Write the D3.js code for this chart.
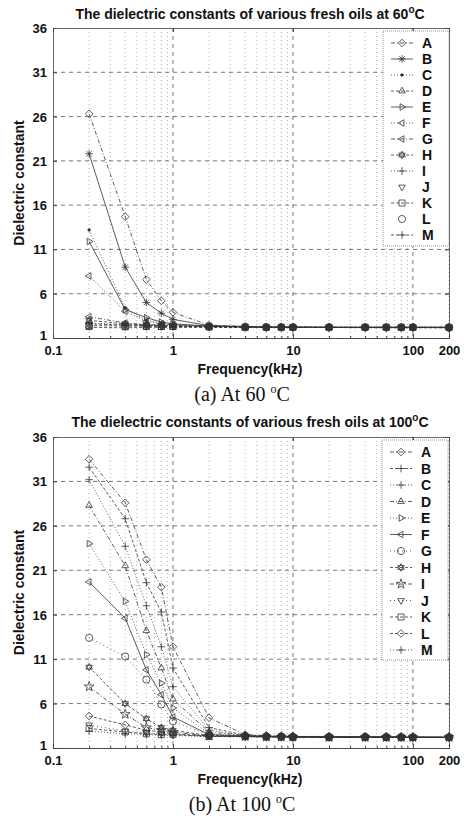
<!DOCTYPE html>
<html>
<head>
<meta charset="utf-8">
<script src="https://cdn.jsdelivr.net/npm/d3@7"></script>
<style>
  body { margin: 0; background: #fff; }
  svg { display: block; }
  .tick text { font-family: Arial, "Liberation Sans", sans-serif; font-weight: bold; font-size: 13px; fill: #111; }
</style>
</head>
<body>
<svg id="chart" width="464" height="818"></svg>
<script>
// frequencies (kHz) and dielectric constants
const freqKHz = [0.2, 0.4, 0.6, 0.8, 1, 2, 4, 6, 8, 10, 20, 40, 60, 80, 100, 200];
const oilNames = ["A", "B", "C", "D", "E", "F", "G", "H", "I", "J", "K", "L", "M"];
const yTicks = [1, 6, 11, 16, 21, 26, 31, 36];
const xTicks = [0.1, 1, 10, 100, 200];

// 60 C
const A60 = [26.3, 14.7, 7.6, 5.2, 3.9, 2.45, 2.3, 2.25, 2.25, 2.25, 2.2, 2.2, 2.2, 2.2, 2.2, 2.2];
const B60 = [21.8, 9.0, 5.0, 3.8, 3.1, 2.4, 2.3, 2.25, 2.25, 2.25, 2.2, 2.2, 2.2, 2.2, 2.2, 2.2];
const C60 = [13.2, 4.4, 3.0, 2.7, 2.5, 2.35, 2.25, 2.25, 2.2, 2.2, 2.2, 2.2, 2.2, 2.2, 2.2, 2.15];
const D60 = [2.2, 2.15, 2.2, 2.2, 2.2, 2.2, 2.2, 2.2, 2.2, 2.2, 2.2, 2.15, 2.15, 2.15, 2.15, 2.15];
const E60 = [11.9, 4.2, 3.3, 2.8, 2.6, 2.35, 2.25, 2.25, 2.2, 2.2, 2.2, 2.2, 2.2, 2.2, 2.2, 2.2];
const F60 = [8.0, 4.0, 2.9, 2.6, 2.5, 2.3, 2.25, 2.2, 2.2, 2.2, 2.2, 2.2, 2.2, 2.2, 2.2, 2.15];
const G60 = [3.4, 2.7, 2.5, 2.45, 2.4, 2.3, 2.25, 2.2, 2.2, 2.2, 2.2, 2.2, 2.2, 2.2, 2.2, 2.2];
const H60 = [3.0, 2.6, 2.5, 2.4, 2.4, 2.3, 2.25, 2.2, 2.2, 2.2, 2.2, 2.2, 2.2, 2.2, 2.2, 2.2];
const I60 = [2.7, 2.5, 2.45, 2.4, 2.35, 2.3, 2.25, 2.2, 2.2, 2.2, 2.2, 2.2, 2.2, 2.2, 2.2, 2.2];
const J60 = [2.5, 2.4, 2.4, 2.35, 2.35, 2.3, 2.25, 2.2, 2.2, 2.2, 2.2, 2.2, 2.2, 2.2, 2.2, 2.2];
const K60 = [2.4, 2.35, 2.35, 2.3, 2.3, 2.25, 2.2, 2.2, 2.2, 2.2, 2.2, 2.2, 2.2, 2.2, 2.2, 2.2];
const L60 = [2.3, 2.3, 2.3, 2.3, 2.3, 2.25, 2.2, 2.2, 2.2, 2.2, 2.2, 2.2, 2.2, 2.2, 2.2, 2.15];
const M60 = [2.6, 2.45, 2.4, 2.35, 2.3, 2.25, 2.2, 2.2, 2.2, 2.2, 2.2, 2.2, 2.2, 2.2, 2.2, 2.2];

// 100 C
const A100 = [33.5, 28.6, 22.2, 19.1, 12.4, 4.4, 2.5, 2.4, 2.35, 2.3, 2.3, 2.25, 2.25, 2.25, 2.25, 2.2];
const B100 = [32.6, 26.8, 19.6, 16.3, 10.0, 3.3, 2.45, 2.35, 2.3, 2.3, 2.25, 2.25, 2.25, 2.25, 2.25, 2.2];
const C100 = [31.2, 23.7, 17.0, 12.4, 7.9, 3.0, 2.4, 2.35, 2.3, 2.3, 2.25, 2.25, 2.25, 2.25, 2.25, 2.2];
const D100 = [28.3, 21.5, 14.2, 10.0, 6.5, 2.8, 2.4, 2.3, 2.3, 2.3, 2.25, 2.25, 2.25, 2.25, 2.2, 2.2];
const E100 = [24.0, 17.5, 11.5, 8.3, 5.5, 2.6, 2.35, 2.3, 2.3, 2.3, 2.25, 2.25, 2.25, 2.25, 2.2, 2.2];
const F100 = [19.7, 15.6, 9.8, 7.0, 4.5, 2.5, 2.35, 2.3, 2.3, 2.25, 2.25, 2.25, 2.25, 2.2, 2.2, 2.2];
const G100 = [13.4, 11.3, 8.7, 5.9, 4.0, 2.45, 2.3, 2.3, 2.3, 2.25, 2.25, 2.25, 2.2, 2.2, 2.2, 2.2];
const H100 = [10.1, 6.0, 4.3, 3.3, 3.0, 2.4, 2.3, 2.3, 2.25, 2.25, 2.25, 2.2, 2.2, 2.2, 2.2, 2.2];
const I100 = [7.9, 4.8, 3.3, 3.0, 2.8, 2.35, 2.3, 2.25, 2.25, 2.25, 2.2, 2.2, 2.2, 2.2, 2.2, 2.2];
const J100 = [3.6, 2.9, 2.7, 2.6, 2.5, 2.35, 2.3, 2.25, 2.25, 2.25, 2.2, 2.2, 2.2, 2.2, 2.2, 2.2];
const K100 = [3.2, 2.8, 2.6, 2.5, 2.5, 2.3, 2.3, 2.25, 2.25, 2.2, 2.2, 2.2, 2.2, 2.2, 2.2, 2.2];
const L100 = [4.6, 3.6, 3.0, 2.8, 2.6, 2.35, 2.3, 2.25, 2.25, 2.2, 2.2, 2.2, 2.2, 2.2, 2.2, 2.2];
const M100 = [2.9, 2.6, 2.5, 2.45, 2.4, 2.3, 2.25, 2.25, 2.2, 2.2, 2.2, 2.2, 2.2, 2.2, 2.2, 2.2];

const markers60 = ["diamond", "asterisk", "point", "triUp", "triRight", "triLeft", "triLeft", "hexagram", "plus", "triDown", "square", "circle", "plus"];
const dashes60 = ["4,2,1,2", "", "1,2", "3,2", "", "1,2", "4,2,1,2", "3,2", "1,2", "none", "3,2", "none", "3,2"];
const markers100 = ["diamond", "plus", "plus", "triUp", "triRight", "triLeft", "circle", "hexagram", "star", "triDown", "square", "diamond", "plus"];
const dashes100 = ["4,2,1,2", "3,2", "1,2", "4,2,1,2", "1,2", "", "1,3", "3,2", "4,2,1,2", "1,3", "3,2", "3,2", "1,2"];

const panels = [
  {temp: "60", caption: "(a) At 60 ", series: [A60, B60, C60, D60, E60, F60, G60, H60, I60, J60, K60, L60, M60],
   markers: markers60, dashes: dashes60, top: 28, bottom: 338, titleY: 19, capY: 401,
   legend: {x0: 383, x1: 449, y0: 31, y1: 246, first: 43, step: 16}},
  {temp: "100", caption: "(b) At 100 ", series: [A100, B100, C100, D100, E100, F100, G100, H100, I100, J100, K100, L100, M100],
   markers: markers100, dashes: dashes100, top: 437, bottom: 748, titleY: 427, capY: 811,
   legend: {x0: 382, x1: 448, y0: 440, y1: 660, first: 452, step: 16.5}}
];

const svg = d3.select("#chart");
const left = 53, right = 449;
const ink = "#333";
const boldFont = "Arial, 'Liberation Sans', sans-serif";

function markerPath(type) {
  const r = 3.8;
  const c = Math.cos(Math.PI / 6) * r, s = r / 2;
  switch (type) {
    case "diamond": return `M0,${-r}L${r},0L0,${r}L${-r},0Z`;
    case "triUp": return `M0,${-r}L${c},${s}L${-c},${s}Z`;
    case "triDown": return `M0,${r}L${c},${-s}L${-c},${-s}Z`;
    case "triRight": return `M${r},0L${-s},${c}L${-s},${-c}Z`;
    case "triLeft": return `M${-r},0L${s},${c}L${s},${-c}Z`;
    case "square": return `M${-3},${-3}h6v6h-6Z`;
    case "plus": return `M${-r},0H${r}M0,${-r}V${r}`;
    case "asterisk": { const k = r * 0.7; return `M${-r},0H${r}M0,${-r}V${r}M${-k},${-k}L${k},${k}M${k},${-k}L${-k},${k}`; }
    case "hexagram": return `M0,${-r}L${c},${s}L${-c},${s}ZM0,${r}L${c},${-s}L${-c},${-s}Z`;
    case "star": return d3.symbol(d3.symbolStar, 30)();
    case "circle": return d3.symbol(d3.symbolCircle, 40)();
    case "point": return d3.symbol(d3.symbolCircle, 5)();
  }
}

function drawMarker(g, type, x, y) {
  g.append("path")
    .attr("d", markerPath(type))
    .attr("transform", `translate(${x},${y})`)
    .attr("fill", type === "point" ? ink : "none")
    .attr("stroke", ink)
    .attr("stroke-width", 0.8);
}

panels.forEach(p => {
  const x = d3.scaleLog().domain([0.1, 200]).range([left, right]);
  const y = d3.scaleLinear().domain([1, 36]).range([p.bottom, p.top]);
  const g = svg.append("g");

  // minor x ticks of a log axis
  const minorX = [];
  [0.1, 1, 10, 100].forEach(d => { for (let k = 2; k <= 9; k++) if (d * k <= 200) minorX.push(d * k); });

  // grid
  g.append("g").selectAll("line").data(minorX).join("line")
    .attr("x1", d => x(d)).attr("x2", d => x(d)).attr("y1", p.top).attr("y2", p.bottom)
    .attr("stroke", "#8a8a8a").attr("stroke-width", 0.7).attr("stroke-dasharray", "1,3");
  g.append("g").selectAll("line").data([1, 10, 100]).join("line")
    .attr("x1", d => x(d)).attr("x2", d => x(d)).attr("y1", p.top).attr("y2", p.bottom)
    .attr("stroke", "#666").attr("stroke-width", 0.9).attr("stroke-dasharray", "4,4");
  g.append("g").selectAll("line").data(yTicks.slice(1, -1)).join("line")
    .attr("x1", left).attr("x2", right).attr("y1", d => y(d)).attr("y2", d => y(d))
    .attr("stroke", "#666").attr("stroke-width", 0.9).attr("stroke-dasharray", "4,4");

  // axes
  const yAxis = g.append("g").attr("transform", `translate(${left},0)`)
    .call(d3.axisLeft(y).tickValues(yTicks).tickSize(-4).tickPadding(6));
  g.append("g").attr("transform", `translate(0,${p.bottom})`)
    .call(d3.axisBottom(x).tickValues(xTicks).tickSize(-4).tickPadding(8).tickFormat(d3.format("~g")));
  g.append("g").attr("transform", `translate(0,${p.bottom})`)
    .call(d3.axisBottom(x).tickValues(minorX).tickSize(-2).tickFormat(""));
  g.append("g").attr("transform", `translate(0,${p.top})`)
    .call(d3.axisTop(x).tickValues(xTicks).tickSize(-4).tickFormat(""));
  g.append("g").attr("transform", `translate(${right},0)`)
    .call(d3.axisRight(y).tickValues(yTicks).tickSize(-4).tickFormat(""));
  g.selectAll(".domain").attr("stroke", "#444").attr("stroke-width", 0.8);
  g.selectAll(".tick line").attr("stroke", "#444");
  yAxis.selectAll("text").attr("dy", d => d === 1 ? "0.1em" : "0.35em");

  // series
  const line = d3.line().x((d, i) => x(freqKHz[i])).y(d => y(d));
  p.series.forEach((vals, si) => {
    const dash = p.dashes[si];
    if (dash !== "none") {
      g.append("path").datum(vals).attr("d", line)
        .attr("fill", "none").attr("stroke", ink).attr("stroke-width", 0.8)
        .attr("stroke-dasharray", dash || null);
    }
    vals.forEach((v, i) => drawMarker(g, p.markers[si], x(freqKHz[i]), y(v)));
  });

  // legend
  const L = p.legend;
  g.append("rect").attr("x", L.x0).attr("y", L.y0).attr("width", L.x1 - L.x0).attr("height", L.y1 - L.y0)
    .attr("fill", "#fff").attr("stroke", "#777").attr("stroke-width", 0.8).attr("stroke-dasharray", "1,1");
  oilNames.forEach((name, si) => {
    const ly = L.first + si * L.step;
    const dash = p.dashes[si];
    if (dash !== "none") {
      g.append("line").attr("x1", L.x0 + 8).attr("x2", L.x0 + 30).attr("y1", ly).attr("y2", ly)
        .attr("stroke", ink).attr("stroke-width", 0.8).attr("stroke-dasharray", dash || null);
    }
    drawMarker(g, p.markers[si], L.x0 + 19, ly);
    g.append("text").attr("x", L.x0 + 39).attr("y", ly).attr("dy", "0.36em")
      .attr("font-family", boldFont).attr("font-weight", "bold").attr("font-size", 14)
      .attr("fill", "#111").text(name);
  });

  // title
  const t = g.append("text").attr("x", 250).attr("y", p.titleY)
    .attr("text-anchor", "middle").attr("font-family", boldFont).attr("font-weight", "bold")
    .attr("font-size", 14).attr("fill", "#111");
  t.append("tspan").text(`The dielectric constants of various fresh oils at ${p.temp}`);
  t.append("tspan").attr("dy", -6).attr("font-size", 10).text("o");
  t.append("tspan").attr("dy", 6).text("C");

  // axis labels
  g.append("text").attr("x", 250).attr("y", p.bottom + 36)
    .attr("text-anchor", "middle").attr("font-family", boldFont).attr("font-weight", "bold")
    .attr("font-size", 14).attr("fill", "#111").text("Frequency(kHz)");
  g.append("text").attr("transform", `translate(24,${(p.top + p.bottom) / 2}) rotate(-90)`)
    .attr("text-anchor", "middle").attr("font-family", boldFont).attr("font-weight", "bold")
    .attr("font-size", 14).attr("fill", "#111").text("Dielectric constant");

  // caption
  const c = g.append("text").attr("x", 242).attr("y", p.capY).attr("text-anchor", "middle")
    .attr("font-family", "'Liberation Serif', 'Times New Roman', serif").attr("font-size", 20).attr("fill", "#111");
  c.append("tspan").text(p.caption);
  c.append("tspan").attr("dy", -8).attr("font-size", 12).text("o");
  c.append("tspan").attr("dy", 8).text("C");
});
</script>
</body>
</html>
